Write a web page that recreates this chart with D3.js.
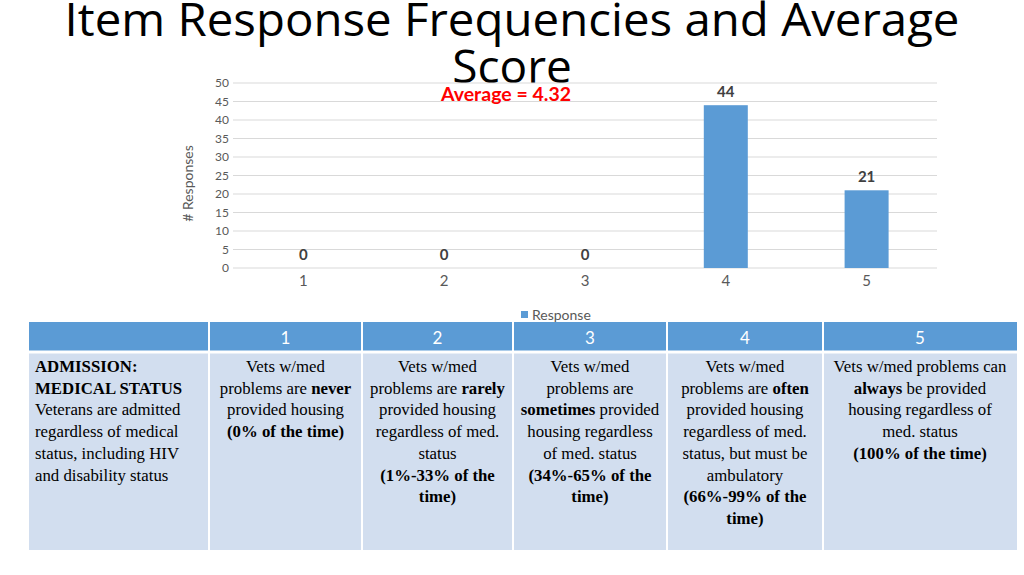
<!DOCTYPE html>
<html>
<head>
<meta charset="utf-8">
<script src="https://cdn.jsdelivr.net/npm/d3@7"></script>
<style>
  body { margin: 0; background: #fff; }
  svg { display: block; }
</style>
</head>
<body>
<svg width="1024" height="575"></svg>
<script>
var width = 1024,
    height = 575;
var svg = d3.select("svg");

// chart data
var responses = ["1", "2", "3", "4", "5"];
var counts = [0, 0, 0, 44, 21];
var yTicks = [0, 5, 10, 15, 20, 25, 30, 35, 40, 45, 50];
var averageText = "Average = 4.32";

// table text, each line is a list of [text, bold] pieces
var rowHeader = [
    [["ADMISSION:", true]],
    [["MEDICAL STATUS", true]],
    [["Veterans are admitted", false]],
    [["regardless of medical", false]],
    [["status, including HIV", false]],
    [["and disability status", false]]
];
var cellLines = [
    [
        [["Vets w/med", false]],
        [["problems are ", false], ["never", true]],
        [["provided housing", false]],
        [["(0% of the time)", true]]
    ],
    [
        [["Vets w/med", false]],
        [["problems are ", false], ["rarely", true]],
        [["provided housing", false]],
        [["regardless of med.", false]],
        [["status", false]],
        [["(1%-33% of the", true]],
        [["time)", true]]
    ],
    [
        [["Vets w/med", false]],
        [["problems are", false]],
        [["sometimes", true], [" provided", false]],
        [["housing regardless", false]],
        [["of med. status", false]],
        [["(34%-65% of the", true]],
        [["time)", true]]
    ],
    [
        [["Vets w/med", false]],
        [["problems are ", false], ["often", true]],
        [["provided housing", false]],
        [["regardless of med.", false]],
        [["status, but must be", false]],
        [["ambulatory", false]],
        [["(66%-99% of the", true]],
        [["time)", true]]
    ],
    [
        [["Vets w/med problems can", false]],
        [["always", true], [" be provided", false]],
        [["housing regardless of", false]],
        [["med. status", false]],
        [["(100% of the time)", true]]
    ]
];

var blue = "#5B9BD5";

// title
var title = svg.append("text")
    .attr("text-anchor", "middle")
    .attr("font-family", "Open Sans")
    .attr("font-size", 46)
    .attr("fill", "#000");
title.append("tspan").attr("x", 512).attr("y", 36)
    .attr("textLength", 895).attr("lengthAdjust", "spacingAndGlyphs")
    .text("Item Response Frequencies and Average");
title.append("tspan").attr("x", 512).attr("y", 83).text("Score");

// chart
var plot = {left: 233, right: 937, top: 83, bottom: 268};

var x = d3.scaleBand()
    .domain(responses)
    .range([plot.left, plot.right]);
var y = d3.scaleLinear()
    .domain([0, 50])
    .range([plot.bottom, plot.top]);

var g = svg.append("g");

g.selectAll("line.grid")
    .data(yTicks)
    .enter()
    .append("line")
    .attr("class", "grid")
    .attr("x1", plot.left)
    .attr("x2", plot.right)
    .attr("y1", d => y(d))
    .attr("y2", d => y(d))
    .attr("stroke", "#d9d9d9")
    .attr("stroke-width", 1);

var yAxis = g.append("g")
    .attr("transform", "translate(" + plot.left + ",0)")
    .call(d3.axisLeft(y).tickValues(yTicks).tickSize(0).tickPadding(4));
yAxis.select(".domain").remove();
yAxis.selectAll("text")
    .attr("font-family", "Lato")
    .attr("font-size", 12)
    .attr("fill", "#595959");

var xAxis = g.append("g")
    .attr("transform", "translate(0," + plot.bottom + ")")
    .call(d3.axisBottom(x).tickSize(0).tickPadding(7));
xAxis.select(".domain").remove();
xAxis.selectAll("text")
    .attr("font-family", "Lato")
    .attr("font-size", 15)
    .attr("fill", "#595959");

var barW = 44;
g.selectAll("rect.bar")
    .data(counts)
    .enter()
    .append("rect")
    .attr("class", "bar")
    .attr("x", (d, i) => x(responses[i]) + x.bandwidth() / 2 - barW / 2)
    .attr("y", d => y(d))
    .attr("width", barW)
    .attr("height", d => y(0) - y(d))
    .attr("fill", blue);

g.selectAll("text.val")
    .data(counts)
    .enter()
    .append("text")
    .attr("class", "val")
    .attr("x", (d, i) => x(responses[i]) + x.bandwidth() / 2)
    .attr("y", d => y(d) - 8)
    .attr("text-anchor", "middle")
    .attr("font-family", "Lato")
    .attr("font-weight", "bold")
    .attr("font-size", 15)
    .attr("fill", "#404040")
    .text(d => d);

g.append("text")
    .attr("transform", "translate(193," + ((plot.top + plot.bottom) / 2 + 8) + ") rotate(-90)")
    .attr("text-anchor", "middle")
    .attr("font-family", "Lato")
    .attr("font-size", 14)
    .attr("fill", "#595959")
    .text("# Responses");

g.append("text")
    .attr("x", 506)
    .attr("y", 101)
    .attr("text-anchor", "middle")
    .attr("font-family", "Lato")
    .attr("font-weight", "bold")
    .attr("font-size", 19.5)
    .attr("fill", "#FF0000")
    .text(averageText);

// legend
g.append("rect")
    .attr("x", 521).attr("y", 311)
    .attr("width", 7).attr("height", 7)
    .attr("fill", blue);
g.append("text")
    .attr("x", 532).attr("y", 320)
    .attr("font-family", "Lato")
    .attr("font-size", 14)
    .attr("fill", "#595959")
    .text("Response");

// table
var colEdges = [29, 209, 362, 513, 667, 823, 1017];
var headTop = 322, headBottom = 352, bodyBottom = 550;
var tbl = svg.append("g");

for (var c = 0; c < colEdges.length - 1; c++) {
    tbl.append("rect")
        .attr("x", colEdges[c])
        .attr("y", headTop)
        .attr("width", colEdges[c + 1] - colEdges[c])
        .attr("height", headBottom - headTop)
        .attr("fill", blue);
    tbl.append("rect")
        .attr("x", colEdges[c])
        .attr("y", headBottom)
        .attr("width", colEdges[c + 1] - colEdges[c])
        .attr("height", bodyBottom - headBottom)
        .attr("fill", "#D2DEEF");
}
// white cell borders
colEdges.slice(1, -1).forEach(e => {
    tbl.append("line")
        .attr("x1", e).attr("x2", e)
        .attr("y1", headTop).attr("y2", bodyBottom)
        .attr("stroke", "#fff").attr("stroke-width", 2);
});
tbl.append("line")
    .attr("x1", colEdges[0]).attr("x2", colEdges[colEdges.length - 1])
    .attr("y1", headBottom).attr("y2", headBottom)
    .attr("stroke", "#fff").attr("stroke-width", 3);

tbl.selectAll("text.head")
    .data(responses)
    .enter()
    .append("text")
    .attr("class", "head")
    .attr("x", (d, i) => (colEdges[i + 1] + colEdges[i + 2]) / 2)
    .attr("y", 344)
    .attr("text-anchor", "middle")
    .attr("font-family", "Lato")
    .attr("font-size", 17)
    .attr("fill", "#fff")
    .text(d => d);

var lineH = 21.7, firstBase = 372;

function drawLines(lines, xPos, anchor) {
    var t = tbl.append("text")
        .attr("text-anchor", anchor)
        .attr("font-family", "Liberation Serif")
        .attr("font-size", 16.8)
        .attr("fill", "#000");
    lines.forEach((line, li) => {
        line.forEach((piece, pi) => {
            var ts = t.append("tspan")
                .attr("font-weight", piece[1] ? "bold" : "normal")
                .text(piece[0]);
            if (pi === 0) ts.attr("x", xPos).attr("y", firstBase + li * lineH);
        });
    });
}

drawLines(rowHeader, 35, "start");
cellLines.forEach((lines, i) => {
    drawLines(lines, (colEdges[i + 1] + colEdges[i + 2]) / 2, "middle");
});
</script>
</body>
</html>
